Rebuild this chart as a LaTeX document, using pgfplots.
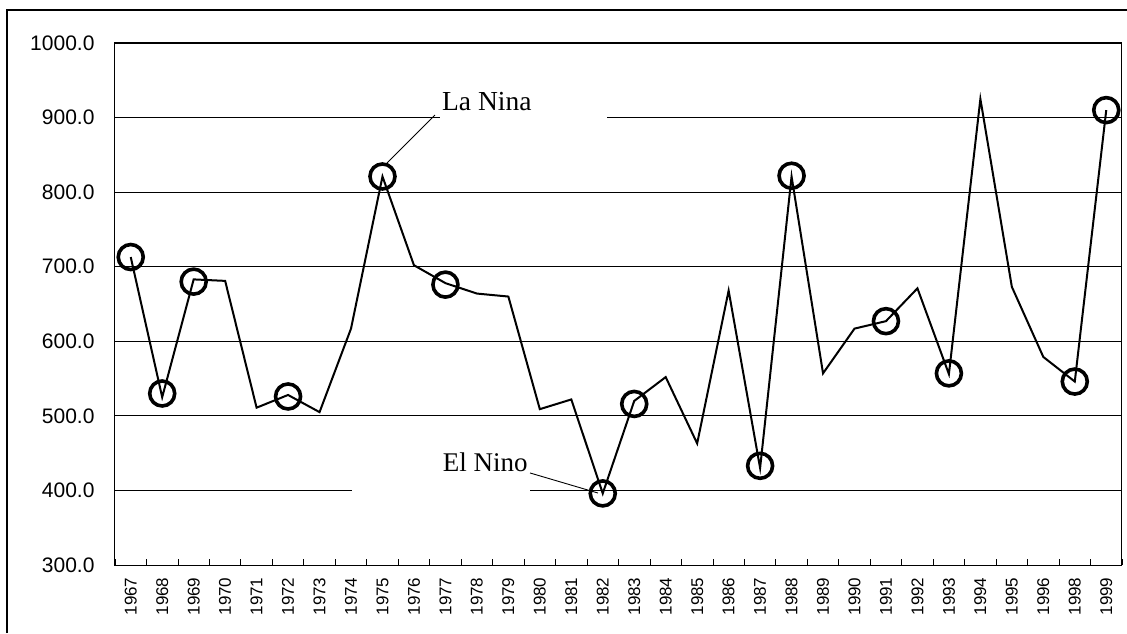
\documentclass[border=0pt]{standalone}
\usepackage{pgfplots}
\pgfplotsset{compat=1.18}
\usepackage{fontspec}
\setmainfont{Liberation Sans}
\newfontfamily\serifnote{Liberation Serif}
\begin{document}
\begin{tikzpicture}
\useasboundingbox (0,0) rectangle (1127pt,633pt);
\draw[line width=1.2pt] (7pt,0pt) -- (7pt,623pt) -- (1127pt,623pt);
\begin{axis}[
  at={(115pt,68pt)}, anchor=south west,
  width=1007pt, height=522pt, scale only axis,
  xmin=-0.5, xmax=31.5, ymin=300, ymax=1000,
  axis line style={line width=1pt},
  xtick pos=bottom, ytick pos=left,
  xtick={0,...,31},
  xticklabels={1967,1968,1969,1970,1971,1972,1973,1974,1975,1976,1977,1978,1979,1980,1981,1982,1983,1984,1985,1986,1987,1988,1989,1990,1991,1992,1993,1994,1995,1996,1998,1999},
  x tick label style={rotate=90, anchor=east, font=\fontsize{17}{20}\selectfont, xshift=-9pt},
  major x tick style={draw=none},
  minor xtick={-0.5,0.5,...,31.5},
  minor x tick style={line width=0.8pt, black},
  minor tick length=6pt,
  tick align=inside,
  ytick={300,400,...,1000},
  major y tick style={draw=none},
  ymajorgrids,
  grid style={black, line width=0.9pt},
  y tick label style={font=\fontsize{21}{24}\selectfont, xshift=-17pt},
  /pgf/number format/.cd, fixed, fixed zerofill, precision=1, 1000 sep={}, assume math mode=true,
]
% white label backgrounds
\fill[white] (axis cs:9.83,890) rectangle (axis cs:15.13,944);
\fill[white] (axis cs:7.03,394) rectangle (axis cs:12.69,461);
\node[anchor=west, inner sep=0pt, font=\serifnote\fontsize{27.5}{31}\selectfont] at (axis cs:9.89,922) {La Nina};
\node[anchor=east, inner sep=0pt, font=\serifnote\fontsize{27}{31}\selectfont] at (axis cs:12.62,438) {El Nino};
\draw[line width=0.9pt] (axis cs:9.67,903.4) -- (axis cs:8.14,839);
\draw[line width=0.9pt] (axis cs:12.69,423.4) -- (axis cs:14.85,396.5);
\addplot[black, line width=2pt, mark=none] coordinates {
(0,713) (1,525) (2,683) (3,681) (4,511) (5,528) (6,505) (7,617)
(8,821) (9,702) (10,678) (11,664) (12,660) (13,509) (14,522) (15,396)
(16,520) (17,552) (18,463) (19,668) (20,430) (21,821) (22,557) (23,617)
(24,627) (25,671) (26,556) (27,925) (28,673) (29,579) (30,546) (31,910)
};
\addplot[only marks, mark=o, mark size=12.5pt, black, mark options={line width=3.6pt}] coordinates {
(0,713) (1,530) (2,680) (5,526) (8,821) (10,676) (15,396) (16,516)
(20,433) (21,822) (24,627) (26,557) (30,546) (31,910)
};
\end{axis}
\end{tikzpicture}
\end{document}
